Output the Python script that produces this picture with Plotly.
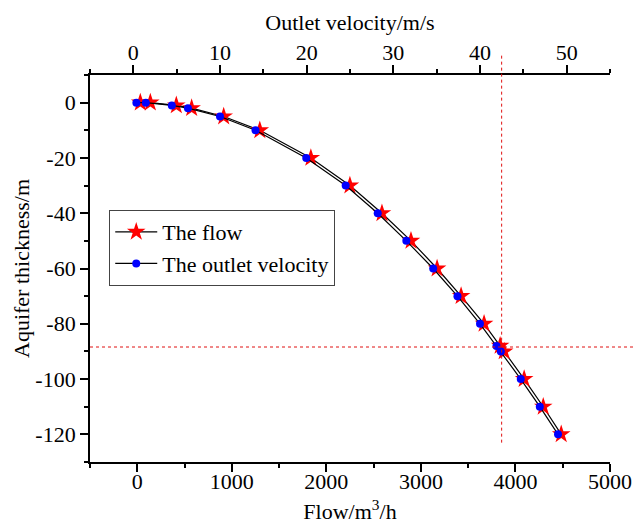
import plotly.graph_objects as go

# ---- data ----
depth = [0, 0, -1, -2, -5, -10, -20, -30, -40, -50, -60, -70, -80, -88, -90, -100, -110, -120]
flow = [32, 138, 413, 575, 914, 1296, 1836, 2249, 2588, 2895, 3171, 3425, 3668, 3838, 3881, 4092, 4294, 4484]
velocity = [0.35, 1.44, 4.44, 6.30, 10.0, 14.1, 19.95, 24.5, 28.2, 31.5, 34.6, 37.4, 40.0, 41.9, 42.4, 44.7, 46.9, 49.0]

# reference (dotted) lines
ref_flow = 3854
ref_depth = -88.4

flow_range = [-500, 5000]
vel_range = [-5, 55]
depth_range = [-130, 10]

y_tickvals = [0, -20, -40, -60, -80, -100, -120]
y_ticktext = ["0", "-20", "-40", "-60", "-80", "-100", "-120"]
x_tickvals = [0, 1000, 2000, 3000, 4000, 5000]
x2_tickvals = [0, 10, 20, 30, 40, 50]

FONT = "'Liberation Serif', 'Times New Roman', Times, serif"
FS = 22

fig = go.Figure()
fig.add_trace(go.Scatter(
    x=flow, y=depth, name="The flow", mode="lines+markers",
    line=dict(color="black", width=1.2),
    marker=dict(symbol="star", size=14, color="red", line=dict(width=0)),
    xaxis="x", yaxis="y",
))
fig.add_trace(go.Scatter(
    x=velocity, y=depth, name="The outlet velocity", mode="lines+markers",
    line=dict(color="black", width=1.2),
    marker=dict(symbol="circle", size=8, color="blue", line=dict(width=0)),
    xaxis="x2", yaxis="y",
))

def px_x(v):
    return (v - flow_range[0]) / (flow_range[1] - flow_range[0])

def px_y(v):
    return (v - depth_range[0]) / (depth_range[1] - depth_range[0])

# vertical dotted line (extends above the plot area)
fig.add_shape(type="line", xref="paper", yref="paper",
              x0=px_x(ref_flow), x1=px_x(ref_flow), y0=px_y(-123), y1=px_y(18),
              line=dict(color="#e01010", width=1, dash="dot"))
# horizontal dotted line (extends right of the plot area)
fig.add_shape(type="line", xref="paper", yref="paper",
              x0=px_x(-500), x1=px_x(5250), y0=px_y(ref_depth), y1=px_y(ref_depth),
              line=dict(color="#e01010", width=1, dash="dot"))

axis_common = dict(
    showline=True, linecolor="black", linewidth=1.8,
    ticks="outside", ticklen=8, tickwidth=1.5, tickcolor="black",
    showgrid=False, zeroline=False,
    tickfont=dict(family=FONT, size=FS, color="black"),
)

fig.update_layout(
    width=633, height=524,
    margin=dict(l=90, r=23, t=75, b=62, autoexpand=False),
    paper_bgcolor="white", plot_bgcolor="white",
    font=dict(family=FONT, size=FS, color="black"),
    showlegend=True,
    legend=dict(
        x=0.037, y=0.651, xanchor="left", yanchor="top",
        bgcolor="white", bordercolor="#444", borderwidth=1,
        font=dict(family=FONT, size=FS, color="black"),
        tracegroupgap=0, itemwidth=42,
    ),
    xaxis=dict(
        range=flow_range, tickmode="array", tickvals=x_tickvals,
        ticklabelstandoff=-9,
        minor=dict(tickmode="linear", tick0=-500, dtick=1000, ticks="outside",
                   ticklen=4, tickwidth=1.5, tickcolor="black"),
        title=dict(text="Flow/m<sup>3</sup>/h", font=dict(family=FONT, size=FS),
                   standoff=15),
        automargin=False,
        **axis_common,
    ),
    xaxis2=dict(
        range=vel_range, overlaying="x", side="top", anchor="y",
        tickmode="array", tickvals=x2_tickvals,
        ticklabelstandoff=-4,
        minor=dict(tickmode="linear", tick0=-5, dtick=10, ticks="outside",
                   ticklen=4, tickwidth=1.5, tickcolor="black"),
        title=dict(text="Outlet velocity/m/s", font=dict(family=FONT, size=FS),
                   standoff=4),
        automargin=False,
        **axis_common,
    ),
    yaxis=dict(
        range=depth_range, tickmode="array", tickvals=y_tickvals, ticktext=y_ticktext,
        minor=dict(tickmode="linear", tick0=10, dtick=20, ticks="outside",
                   ticklen=4, tickwidth=1.5, tickcolor="black"),
        title=dict(text="Aquifer thickness/m", font=dict(family=FONT, size=FS),
                   standoff=0),
        automargin=False,
        **axis_common,
    ),
)

fig.write_html("out.html")
